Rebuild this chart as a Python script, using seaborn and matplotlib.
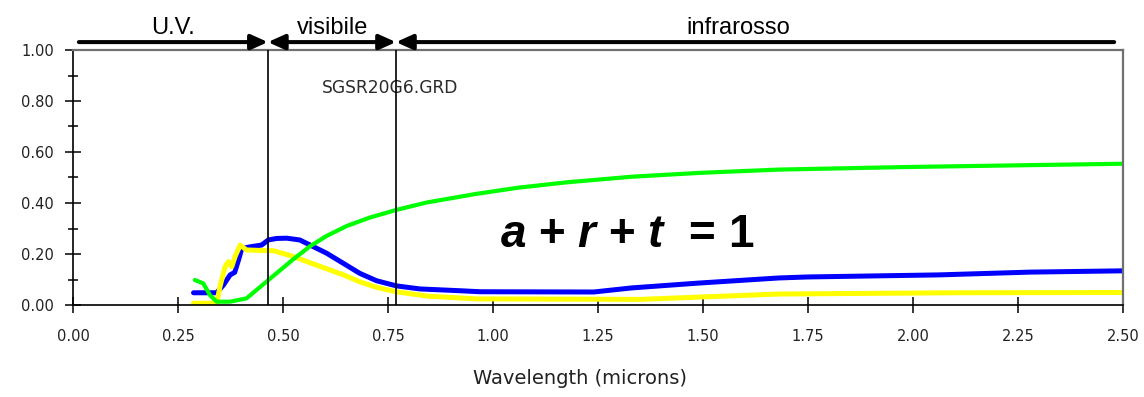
import matplotlib
matplotlib.use("Agg")
import matplotlib.pyplot as plt
import seaborn as sns
import pandas as pd
from matplotlib.ticker import MultipleLocator, FormatStrFormatter

# ---- data ----
blue_x = [0.287, 0.342, 0.358, 0.374, 0.385, 0.394, 0.402, 0.425, 0.449, 0.465, 0.485,
          0.509, 0.54, 0.572, 0.604, 0.644, 0.683, 0.723, 0.77, 0.826, 0.921, 0.969,
          1.24, 1.33, 1.49, 1.68, 1.75, 2.06, 2.28, 2.5]
blue_y = [0.048, 0.048, 0.078, 0.118, 0.128, 0.176, 0.222, 0.229, 0.235, 0.255, 0.261,
          0.262, 0.255, 0.229, 0.203, 0.163, 0.124, 0.095, 0.075, 0.063, 0.056, 0.052,
          0.051, 0.067, 0.086, 0.106, 0.11, 0.118, 0.129, 0.134]

green_x = [0.29, 0.31, 0.326, 0.342, 0.374, 0.413, 0.445, 0.485, 0.525, 0.564, 0.604,
           0.652, 0.707, 0.77, 0.842, 0.961, 1.06, 1.175, 1.33, 1.49, 1.68, 1.98, 2.3, 2.5]
green_y = [0.098, 0.085, 0.039, 0.013, 0.013, 0.026, 0.07, 0.125, 0.18, 0.23, 0.271,
           0.31, 0.343, 0.373, 0.402, 0.436, 0.46, 0.481, 0.503, 0.518, 0.531, 0.541,
           0.549, 0.554]

yellow_x = [0.287, 0.342, 0.35, 0.362, 0.37, 0.378, 0.386, 0.398, 0.413, 0.461, 0.477,
            0.525, 0.564, 0.604, 0.644, 0.683, 0.723, 0.77, 0.842, 0.961, 1.35, 1.49,
            1.68, 2.1, 2.5]
yellow_y = [0.007, 0.007, 0.072, 0.15, 0.17, 0.15, 0.19, 0.235, 0.216, 0.213, 0.213,
            0.19, 0.166, 0.142, 0.118, 0.091, 0.069, 0.052, 0.035, 0.024, 0.022, 0.031,
            0.043, 0.048, 0.049]

region_bounds = [0.014, 0.464, 0.769, 2.479]
region_labels = ["U.V.", "visibile", "infrarosso"]
region_label_x = [0.238, 0.617, 1.583]

x_ticks = [0.0, 0.25, 0.5, 0.75, 1.0, 1.25, 1.5, 1.75, 2.0, 2.25, 2.5]
file_label = "SGSR20G6.GRD"
x_label = "Wavelength (microns)"

# ---- style ----
sns.set_style("white")
plt.rcParams["font.family"] = ["DejaVu Sans"]
plt.rcParams["mathtext.fontset"] = "custom"
plt.rcParams["mathtext.bfit"] = "Liberation Sans:bold:italic"
plt.rcParams["mathtext.rm"] = "Liberation Sans:bold"

fig = plt.figure(figsize=(11.44, 3.97), dpi=100)
ax = fig.add_axes([73 / 1144, 92 / 397, 1050 / 1144, 255 / 397])

df_b = pd.DataFrame({"x": blue_x, "y": blue_y})
df_y = pd.DataFrame({"x": yellow_x, "y": yellow_y})
df_g = pd.DataFrame({"x": green_x, "y": green_y})
sns.lineplot(data=df_b, x="x", y="y", ax=ax, color="#0000ff", lw=3.6,
             estimator=None, sort=False)
sns.lineplot(data=df_y, x="x", y="y", ax=ax, color="#ffff00", lw=3.6,
             estimator=None, sort=False)
sns.lineplot(data=df_g, x="x", y="y", ax=ax, color="#00ff00", lw=3.0,
             estimator=None, sort=False)

ax.set_xlim(0, 2.5)
ax.set_ylim(0, 1.0)

# region boundaries
for xb in region_bounds[1:3]:
    ax.axvline(xb, color="black", lw=1.2, zorder=5)

# ticks
ax.set_xticks(x_ticks)
ax.xaxis.set_major_formatter(FormatStrFormatter("%.2f"))
ax.yaxis.set_major_locator(MultipleLocator(0.2))
ax.yaxis.set_minor_locator(MultipleLocator(0.1))
ax.yaxis.set_major_formatter(FormatStrFormatter("%.2f"))
ax.tick_params(axis="both", which="major", direction="inout", length=11, width=1.1,
               color="black", labelsize=10.5, labelcolor="#222222", left=True, bottom=True)
ax.tick_params(axis="y", which="minor", direction="inout", length=6.5, width=1.1,
               color="black", left=True)
ax.tick_params(axis="x", which="major", pad=12)
ax.tick_params(axis="y", which="major", pad=8)

for side in ["left", "bottom"]:
    ax.spines[side].set_color("black")
    ax.spines[side].set_linewidth(1.2)
for side in ["top", "right"]:
    ax.spines[side].set_color("#707070")
    ax.spines[side].set_linewidth(1.6)

ax.set_xlabel(x_label, fontsize=14, color="#222222", va="top")
ax.xaxis.set_label_coords(0.483, -0.25)
ax.set_ylabel("")

# region arrows
arrow_y = 1.031
styles = ["-|>", "<|-|>", "<|-"]
for i in range(3):
    ax.annotate("", xy=(region_bounds[i + 1], arrow_y), xytext=(region_bounds[i], arrow_y),
                xycoords="data", textcoords="data", annotation_clip=False,
                arrowprops=dict(arrowstyle=styles[i] + ",head_length=1.0,head_width=0.45",
                                mutation_scale=10, lw=2.9, color="black",
                                shrinkA=0, shrinkB=0))
    ax.text(region_label_x[i], 1.063, region_labels[i], ha="center", va="baseline",
            fontsize=17, family="Liberation Sans", color="black", clip_on=False)

ax.text(0.592, 0.85, file_label, fontsize=12.3, color="#2a2a2a", ha="left", va="center")

ax.text(1.319, 0.227, r"$\mathbfit{a}$ + $\mathbfit{r}$ + $\mathbfit{t}$  = 1",
        fontsize=33, family="Liberation Sans", fontweight="bold", ha="center",
        va="baseline", color="black")

fig.savefig("out.png", dpi=100)
